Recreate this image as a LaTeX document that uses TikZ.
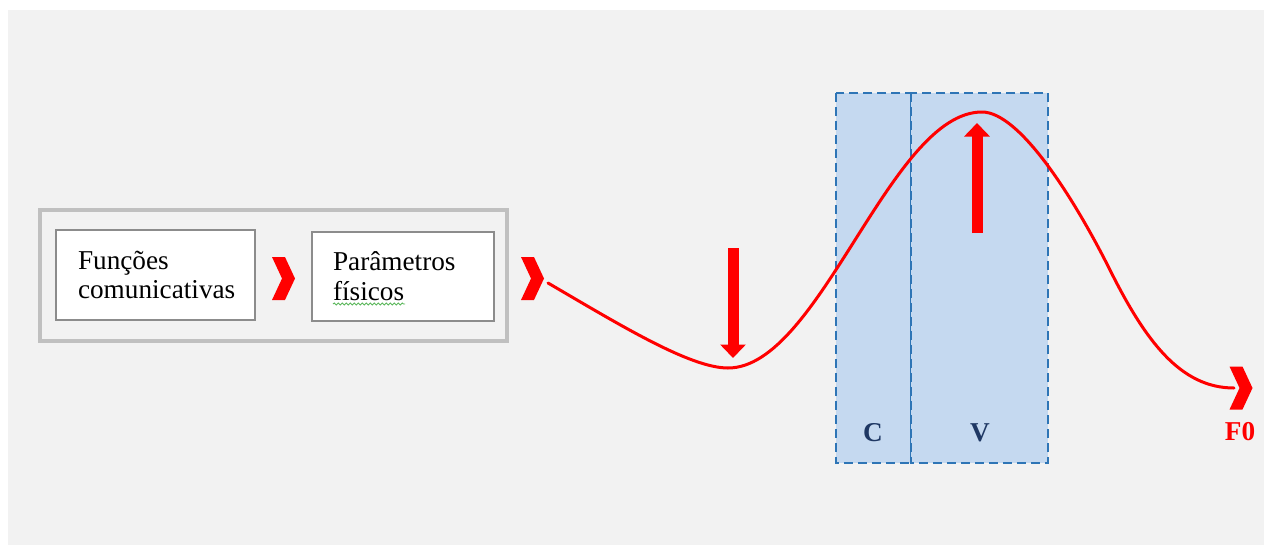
\documentclass[tikz,border=0pt]{standalone}
\usepackage{fontspec}
\setmainfont{Liberation Serif}
\usetikzlibrary{arrows.meta, shapes.symbols, decorations.pathmorphing}
\definecolor{pagegray}{HTML}{F2F2F2}
\definecolor{framegray}{HTML}{C0C0C0}
\definecolor{boxgray}{HTML}{8C8C8C}
\definecolor{zonefill}{HTML}{C5D9F0}
\definecolor{zoneline}{HTML}{2E75B6}
\definecolor{zonetext}{HTML}{1F3864}
\definecolor{spellgreen}{HTML}{5CB85C}

\begin{document}
\begin{tikzpicture}[
    x=0.02cm, y=-0.02cm,
    >=Stealth,
    font=\fontsize{15.5}{17}\selectfont,
    stepbox/.style={draw=boxgray, line width=0.6pt, fill=white, inner sep=0pt,
        align=left, minimum height=1.8cm},
    chevron/.style={shape=signal, signal from=west, signal to=east,
        signal pointer angle=130, fill=red, draw=none, inner sep=0pt,
        minimum width=0.46cm, minimum height=0.86cm},
    contour/.style={red, line width=0.06cm, line cap=round},
    bigarrow/.style={red, line width=0.22cm, -{Triangle[width=0.5cm, length=0.27cm]}},
    zone/.style={fill=zonefill, draw=zoneline, line width=0.04cm,
        dash pattern=on 0.18cm off 0.1cm},
    zonelabel/.style={font=\fontsize{15.5}{17}\selectfont\bfseries, text=zonetext},
]

%--- Page ---
\useasboundingbox (0,0) rectangle (1264,545);
\fill[pagegray] (8,10) rectangle (1264,545);

%============================================================
% C and V zones
%============================================================
\def\zoneTop{93}
\def\zoneBot{463}
\filldraw[zone] (836,\zoneTop) rectangle (911,\zoneBot);
\filldraw[zone] (911,\zoneTop) rectangle (1048,\zoneBot);
\node[zonelabel] (lblC) at (873,433) {C};
\node[zonelabel] (lblV) at (980,433) {V};

%============================================================
% Boxes on the left
%============================================================
\draw[framegray, line width=0.08cm] (40,210) rectangle (507,341);

\node[stepbox, minimum width=3.98cm, text width=3.1cm] (func) at (155.5,275)
    {Funções\\comunicativas};
\node[stepbox, minimum width=3.64cm, minimum height=1.78cm, text width=2.8cm] (param) at (403,276.5)
    {Parâmetros\\físicos};
% spelling squiggle
\draw[spellgreen, line width=0.5pt,
      decorate, decoration={snake, segment length=0.08cm, amplitude=0.02cm}]
    (333,304) -- (405,304);

%============================================================
% Chevrons
%============================================================
\node[chevron] (chevA) at (283.5,278.5) {};
\node[chevron] (chevB) at (532.5,278.5) {};
\node[chevron] (chevF) at (1241,388) {};
\node[font=\fontsize{15.5}{17}\selectfont\bfseries, text=red] (f0) at (1240,432) {F0};

%============================================================
% F0 contour: start, valley, peak, inflection, end
%============================================================
\coordinate (cStart) at (548,283);
\coordinate (cLow)   at (728,368);
\coordinate (cPeak)  at (982,112);
\coordinate (cFall)  at (1110,270);
\coordinate (cEnd)   at (1234,388);
\draw[contour] (cStart) .. controls (620,325) and (690,368) .. (cLow)
    .. controls (820,368) and (890,112) .. (cPeak)
    .. controls (1020,112) and (1075,200) .. (cFall)
    .. controls (1145,340) and (1180,388) .. (cEnd);

%============================================================
% Fall and rise arrows
%============================================================
\coordinate (lowTop) at (733,248);
\coordinate (lowTip) at (733,358);
\coordinate (highBot) at (977,233);
\coordinate (highTip) at (977,123);
\draw[bigarrow] (lowTop) -- (lowTip);
\draw[bigarrow] (highBot) -- (highTip);

\end{tikzpicture}
\end{document}
